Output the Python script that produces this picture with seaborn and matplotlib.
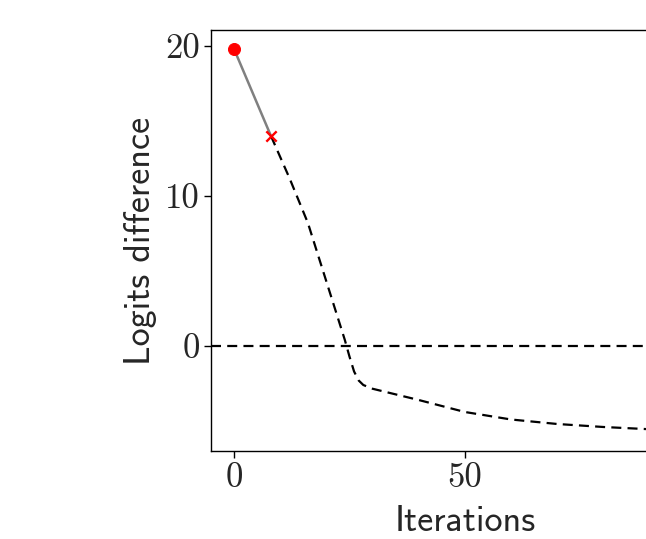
import os
import matplotlib
matplotlib.use("Agg")
import matplotlib.pyplot as plt
from matplotlib.font_manager import FontProperties
import seaborn as sns

# Optimisation trace of the logits difference
start_iter = [0, 8]
start_vals = [19.8, 14.0]

iters = [8, 12, 16, 20, 24, 25, 26, 27, 28, 30, 32, 36, 40, 50, 60, 70, 80, 90, 100]
logit_diff = [14.0, 11.2, 8.2, 4.3, 0.4, -0.7, -1.7, -2.3, -2.6, -2.85, -3.0,
              -3.3, -3.6, -4.4, -4.9, -5.2, -5.4, -5.55, -5.65]

xticks = [0, 50]
yticks = [0, 10, 20]

sns.set_theme(style="ticks")
plt.rcParams["axes.unicode_minus"] = False

ttf_dir = os.path.join(matplotlib.get_data_path(), "fonts", "ttf")
serif = FontProperties(fname=os.path.join(ttf_dir, "cmr10.ttf"), size=25)
sans = FontProperties(fname=os.path.join(ttf_dir, "cmss10.ttf"), size=26)

fig = plt.figure(figsize=(6.46, 5.39), dpi=100)
ax = fig.add_axes([0.3266, 0.1633, 0.786, 0.781])

sns.lineplot(x=start_iter, y=start_vals, color="gray", lw=1.8, ax=ax)
sns.lineplot(x=iters, y=logit_diff, color="black", lw=1.6,
             linestyle=(0, (4.5, 2.8)), ax=ax)
ax.axhline(0, color="black", lw=1.6, linestyle=(0, (4.5, 2.8)))
sns.scatterplot(x=[start_iter[0]], y=[start_vals[0]], color="red",
                marker="o", s=75, edgecolor="red", zorder=5, ax=ax)
sns.scatterplot(x=[start_iter[1]], y=[start_vals[1]], color="red",
                marker="x", s=55, linewidth=1.7, zorder=5, ax=ax)

ax.set_xlim(-5, 105)
ax.set_ylim(-7.0, 21.07)
ax.set_xticks(xticks)
ax.set_yticks(yticks)
ax.set_xticklabels([str(t) for t in xticks], fontproperties=serif)
ax.set_yticklabels([str(t) for t in yticks], fontproperties=serif)
ax.set_xlabel("Iterations", fontproperties=sans, labelpad=8)
ax.set_ylabel("Logits difference", fontproperties=sans, labelpad=6)

for sp in ax.spines.values():
    sp.set_visible(True)
    sp.set_color("black")
    sp.set_linewidth(1.0)
ax.tick_params(length=5, width=1, color="black", pad=3)

fig.savefig("out.png", dpi=100, facecolor="white")
